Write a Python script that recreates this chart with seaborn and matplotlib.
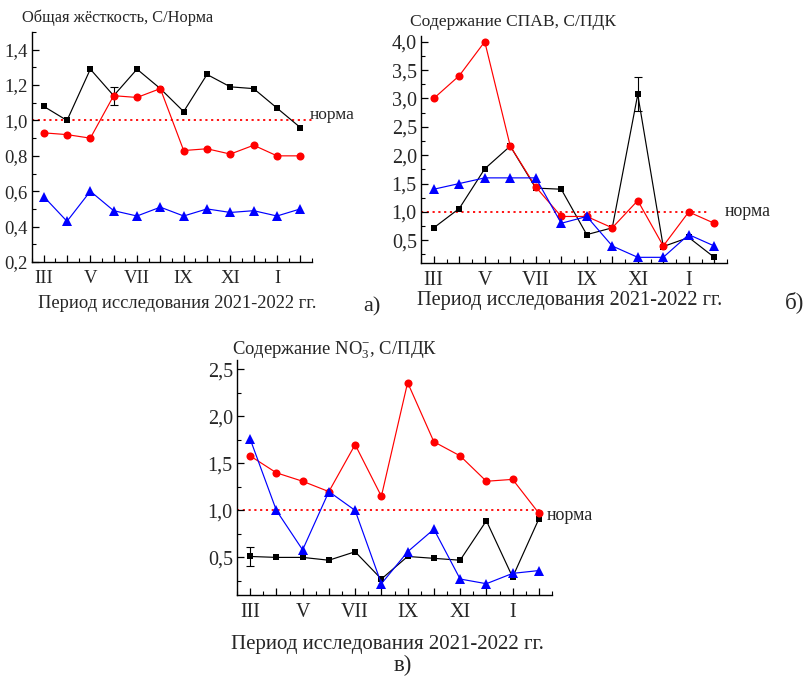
import numpy as np
import pandas as pd
import matplotlib
matplotlib.use("Agg")
import matplotlib.pyplot as plt
import seaborn as sns
from matplotlib.ticker import MultipleLocator

# Months of the study period (March 2021 – February 2022)
months = ["III", "IV", "V", "VI", "VII", "VIII", "IX", "X", "XI", "XII", "I", "II"]
month_labels = ["III", "", "V", "", "VII", "", "IX", "", "XI", "", "I", ""]

# a) Total hardness, C/Norm
hard_black = [1.08, 1.00, 1.29, 1.14, 1.29, 1.18, 1.05, 1.26, 1.19, 1.18, 1.07, 0.96]
hard_red = [0.93, 0.92, 0.90, 1.14, 1.13, 1.18, 0.83, 0.84, 0.81, 0.86, 0.80, 0.80]
hard_blue = [0.57, 0.43, 0.60, 0.49, 0.46, 0.51, 0.46, 0.50, 0.48, 0.49, 0.46, 0.50]
hard_err_month = "VI"
hard_err = 0.05
hard_yticks = [0.2, 0.4, 0.6, 0.8, 1.0, 1.2, 1.4]
hard_ylabels = ["0,2", "0,4", "0,6", "0,8", "1,0", "1,2", "1,4"]

# b) Surfactants (СПАВ), C/MPC
surf_black = [0.72, 1.06, 1.76, 2.16, 1.42, 1.40, 0.60, 0.72, 3.07, 0.39, 0.55, 0.20]
surf_red = [3.00, 3.40, 4.00, 2.16, 1.44, 0.92, 0.92, 0.72, 1.20, 0.40, 1.00, 0.80]
surf_blue = [1.40, 1.50, 1.60, 1.60, 1.60, 0.80, 0.92, 0.40, 0.20, 0.20, 0.60, 0.40]
surf_err_month = "XI"
surf_err = 0.30
surf_yticks = [0.5, 1.0, 1.5, 2.0, 2.5, 3.0, 3.5, 4.0]
surf_ylabels = ["0,5", "1,0", "1,5", "2,0", "2,5", "3,0", "3,5", "4,0"]

# c) Nitrates, C/MPC
no3_black = [0.51, 0.50, 0.50, 0.47, 0.56, 0.27, 0.51, 0.49, 0.47, 0.89, 0.29, 0.91]
no3_red = [1.58, 1.40, 1.31, 1.20, 1.70, 1.15, 2.36, 1.73, 1.58, 1.31, 1.33, 0.97]
no3_blue = [1.76, 1.00, 0.58, 1.20, 1.00, 0.22, 0.56, 0.80, 0.27, 0.22, 0.33, 0.36]
no3_err_month = "III"
no3_err = 0.10
no3_yticks = [0.5, 1.0, 1.5, 2.0, 2.5]
no3_ylabels = ["0,5", "1,0", "1,5", "2,0", "2,5"]

norm_level = 1.0

sns.set_style("ticks")
plt.rcParams["font.family"] = ["Liberation Serif", "DejaVu Serif"]
plt.rcParams["mathtext.fontset"] = "custom"
plt.rcParams["mathtext.rm"] = "Liberation Serif"
plt.rcParams["mathtext.it"] = "Liberation Serif:italic"
plt.rcParams["mathtext.default"] = "regular"

W, H = 806, 677
fig = plt.figure(figsize=(W / 100, H / 100), dpi=100)
fig.patch.set_facecolor("white")


def px_axes(left, top, right, bottom):
    return fig.add_axes([left / W, 1 - bottom / H, (right - left) / W, (bottom - top) / H])


def fig_text(x, y, s, **kw):
    fig.text(x / W, 1 - y / H, s, **kw)


styles = [("black", "s", 4.8), ("red", "o", 5.8), ("blue", "^", 6.5)]


def draw_panel(ax, series, err_month, err, yticks, ylabels, ylim, yminor,
               norm_xmax, labelsize):
    x = np.arange(len(months))
    for values, (color, marker, ms) in zip(series, styles):
        df = pd.DataFrame({"month": x, "value": values})
        sns.lineplot(data=df, x="month", y="value", ax=ax, color=color,
                     marker=marker, markersize=ms, markeredgewidth=0,
                     linewidth=0.85, legend=False)
    i = months.index(err_month)
    ax.errorbar([x[i]], [series[0][i]], yerr=[err], fmt="none", ecolor="black",
                elinewidth=0.8, capsize=3, capthick=0.8, zorder=1)
    ax.axhline(norm_level, xmin=0, xmax=norm_xmax, color="red", linestyle=(0, (1.2, 2)),
               linewidth=1.3, zorder=0.5)
    ax.set_xlim(-0.5, 11.5)
    ax.set_ylim(*ylim)
    ax.set_xticks(x)
    ax.set_xticklabels(month_labels)
    ax.xaxis.set_minor_locator(MultipleLocator(0.5))
    ax.set_yticks(yticks)
    ax.set_yticklabels(ylabels)
    ax.yaxis.set_minor_locator(MultipleLocator(yminor))
    ax.tick_params(which="major", direction="in", length=5, width=0.9,
                   labelsize=labelsize, pad=3, color="black")
    ax.tick_params(which="minor", direction="in", length=3, width=0.8, color="black")
    ax.tick_params(axis="x", which="major", pad=6)
    ax.set_xlabel("")
    ax.set_ylabel("")
    for side in ("left", "bottom"):
        ax.spines[side].set_linewidth(1.0)
        ax.spines[side].set_color("black")
    sns.despine(ax=ax)
    ax.set_facecolor("white")


# Panel a
ax_a = px_axes(32, 32, 312, 262)
draw_panel(ax_a, [hard_black, hard_red, hard_blue], hard_err_month, hard_err,
           hard_yticks, hard_ylabels, (0.2, 1.5), 0.1, 1.0, 13.5)
fig_text(22, 18, "Общая жёсткость, С/Норма", ha="left", va="center", fontsize=11.8)
fig_text(177, 304, "Период исследования 2021-2022 гг.", ha="center", va="center", fontsize=13.3)
fig_text(310, 115, "норма", ha="left", va="center", fontsize=12.5)
fig_text(372, 307, "а)", ha="center", va="center", fontsize=16)

# Panel b
ax_b = px_axes(421, 36, 727, 263)
draw_panel(ax_b, [surf_black, surf_red, surf_blue], surf_err_month, surf_err,
           surf_yticks, surf_ylabels, (0.1, 4.1), 0.25, 0.94, 14.5)
fig_text(410, 22, "Содержание СПАВ, С/ПДК", ha="left", va="center", fontsize=12.6)
fig_text(570, 300, "Период исследования 2021-2022 гг.", ha="center", va="center", fontsize=14.7)
fig_text(725, 211, "норма", ha="left", va="center", fontsize=12.8)
fig_text(795, 302, "б)", ha="center", va="center", fontsize=16.5)

# Panel c
ax_c = px_axes(237, 360, 552, 595)
draw_panel(ax_c, [no3_black, no3_red, no3_blue], no3_err_month, no3_err,
           no3_yticks, no3_ylabels, (0.1, 2.6), 0.25, 0.973, 14.5)
fig_text(232, 350, "Содержание NO$_3^{-}$, С/ПДК", ha="left", va="center", fontsize=13.4)
fig_text(387, 645, "Период исследования 2021-2022 гг.", ha="center", va="center", fontsize=15)
fig_text(547, 516, "норма", ha="left", va="center", fontsize=13)
fig_text(403, 665, "в)", ha="center", va="center", fontsize=16.5)

fig.savefig("out.png", dpi=100, facecolor="white")
